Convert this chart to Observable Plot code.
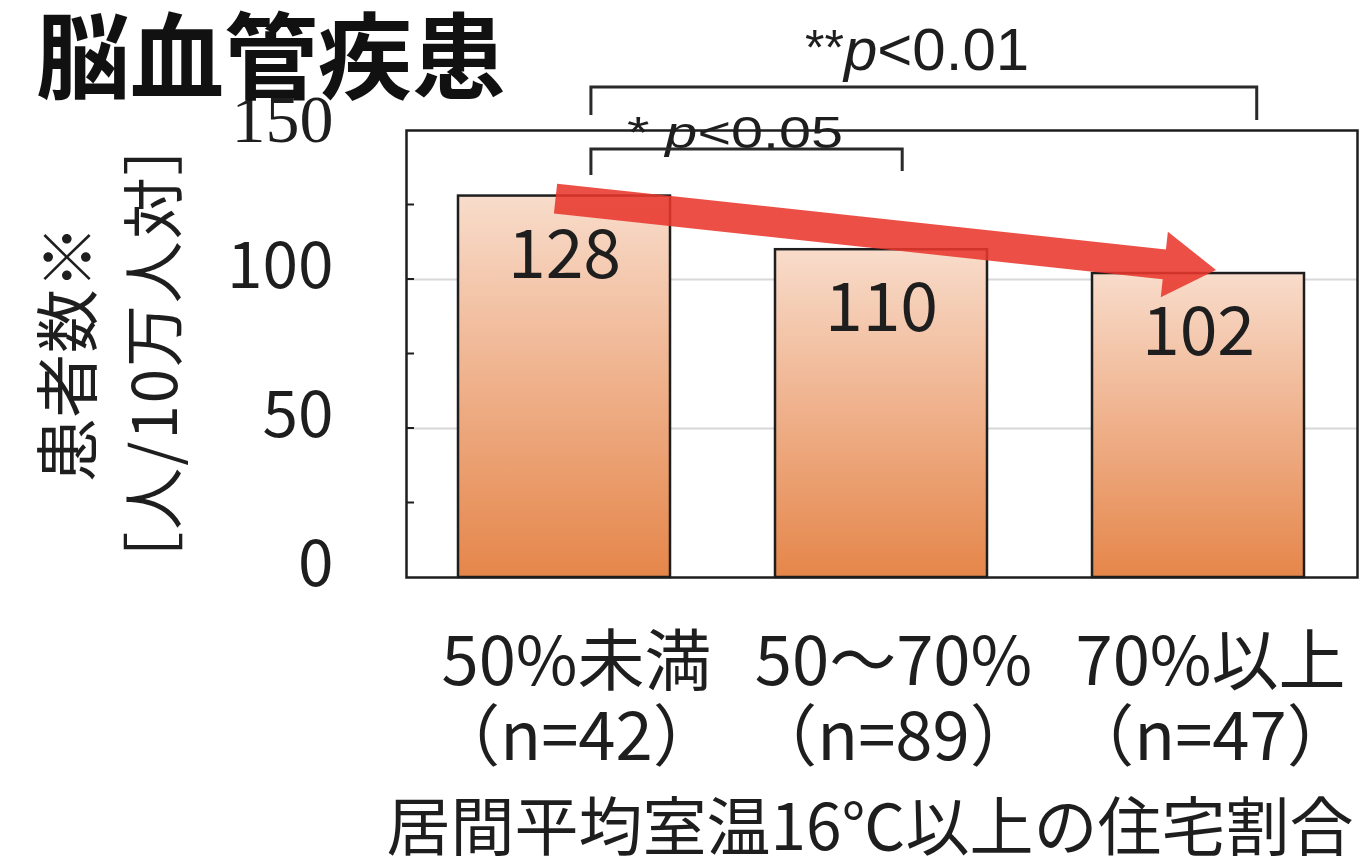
<!DOCTYPE html>
<html>
<head>
<meta charset="utf-8">
<script src="https://cdn.jsdelivr.net/npm/d3@7"></script>
<script src="https://cdn.jsdelivr.net/npm/@observablehq/plot@0.6"></script>
<style>
  html, body { margin: 0; padding: 0; background: #fff; }
  #chart { position: relative; width: 1361px; height: 857px; overflow: hidden; }
  #chart svg { display: block; }
</style>
</head>
<body>
<div id="chart"></div>
<script>
// Cerebrovascular disease patients per 100k, by share of homes with living-room temp >= 16°C
const categories = ["50%未満", "50～70%", "70%以上"];
const sampleSizes = ["（n=42）", "（n=89）", "（n=47）"];
const patients = [128, 110, 102];
const yTickLabels = [0, 50, 100];
const yTopTick = [150];
const minorTicks = [25, 50, 75, 100, 125];
const gridValues = [50, 100];
const titleText = "脳血管疾患";
const yLabelLines = ["患者数※", "［人/10万人対］"];
const xTitle = "居間平均室温16℃以上の住宅割合";

const JP = "'Noto Sans CJK JP', 'Noto Sans', sans-serif";
const INK = "#1e1e1e";

const rows = categories.map((c, i) => ({category: c, n: sampleSizes[i], value: patients[i]}));

const plot = Plot.plot({
  width: 1361,
  height: 857,
  marginLeft: 406,
  marginRight: 4,
  marginTop: 130,
  marginBottom: 280,
  style: {fontFamily: JP, background: "#fff", color: INK, overflow: "visible"},
  x: {domain: categories, paddingInner: 0.33, paddingOuter: 0.165, label: null},
  y: {domain: [0, 150], label: null},
  marks: [
    Plot.ruleY(gridValues, {stroke: "#d8d8d8", strokeWidth: 2}),
    Plot.barY(rows, {x: "category", y: "value", fill: "url(#barFill)", stroke: INK, strokeWidth: 2.5}),
    Plot.text(rows, {x: "category", y: "value", text: d => String(d.value), dy: 60, lineAnchor: "middle", fontSize: 68, fill: INK}),
    Plot.axisY({ticks: yTickLabels, tickSize: 0, tickPadding: 73, dy: -12, fontSize: 64, label: null, fill: INK}),
    Plot.axisY({ticks: yTopTick, tickSize: 0, tickPadding: 73, dy: -10, fontSize: 68, fontFamily: "'Liberation Serif', 'DejaVu Serif', serif", label: null, fill: INK}),
    Plot.axisX({
      tickSize: 0, tickPadding: 54, fontSize: 67, lineHeight: 1.12, dx: 12, label: null, fill: INK,
      tickFormat: d => d + "\n" + sampleSizes[categories.indexOf(d)]
    }),
    Plot.frame({stroke: INK, strokeWidth: 2.5})
  ]
});

document.getElementById("chart").appendChild(plot);

const svg = d3.select(plot);
const sx = plot.scale("x");
const sy = plot.scale("y");
const bw = sx.bandwidth;
const cx = c => sx.apply(c) + bw / 2;
const frameLeft = sx.range[0];
const frameTop = sy.apply(150);

// bar gradient: pale peach at top to orange at the base
const grad = svg.insert("defs", ":first-child").append("linearGradient")
  .attr("id", "barFill").attr("x1", 0).attr("y1", 0).attr("x2", 0).attr("y2", 1);
grad.append("stop").attr("offset", "0%").attr("stop-color", "#f8dccb");
grad.append("stop").attr("offset", "50%").attr("stop-color", "#efb08a");
grad.append("stop").attr("offset", "100%").attr("stop-color", "#e5864a");

const overlay = svg.append("g").attr("text-anchor", "start");

// inward minor ticks on the value axis
overlay.selectAll("line.minor").data(minorTicks).join("line")
  .attr("x1", frameLeft).attr("x2", frameLeft + 8)
  .attr("y1", d => sy.apply(d)).attr("y2", d => sy.apply(d))
  .attr("stroke", INK).attr("stroke-width", 2);

// downward trend arrow from the first bar to the last
{
  const S = [cx(categories[0]) - 0.04 * bw, sy.apply(patients[0]) + 3];
  const E = [cx(categories[2]) + 0.085 * bw, sy.apply(patients[2]) - 3];
  const len = Math.hypot(E[0] - S[0], E[1] - S[1]);
  const u = [(E[0] - S[0]) / len, (E[1] - S[1]) / len];
  const n = [-u[1], u[0]];
  const h = 15, H = 33, headLen = 52;
  const B = [E[0] - u[0] * headLen, E[1] - u[1] * headLen];
  const p = (P, k) => [P[0] + n[0] * k, P[1] + n[1] * k];
  const pts = [p(S, h), p(B, h), p(B, H), E, p(B, -H), p(B, -h), p(S, -h)];
  overlay.append("polygon")
    .attr("points", pts.map(q => q.join(",")).join(" "))
    .attr("fill", "#e8372c").attr("fill-opacity", 0.88);
}

// significance labels
const sig = overlay.append("g").attr("font-family", "'Liberation Sans', Arial, sans-serif").attr("fill", INK);
{
  const t1 = sig.append("text").attr("x", 805).attr("y", frameTop - 60).attr("font-size", 60)
    .attr("text-anchor", "start");
  t1.append("tspan").attr("font-size", 50).attr("dy", -5).text("**");
  t1.append("tspan").attr("font-style", "italic").attr("dy", 5).text("p");
  t1.append("tspan").text("<0.01");

  const t2 = sig.append("text").attr("x", 627).attr("y", frameTop + 18).attr("font-size", 44)
    .attr("text-anchor", "start")
    .attr("textLength", 216).attr("lengthAdjust", "spacingAndGlyphs");
  t2.append("tspan").text("* ");
  t2.append("tspan").attr("font-style", "italic").text("p");
  t2.append("tspan").text("<0.05");
}

// comparison brackets
const bracket = (xa, xb, y, dropA, dropB) => {
  overlay.append("path")
    .attr("d", `M${xa},${y + dropA}V${y}H${xb}V${y + dropB}`)
    .attr("fill", "none").attr("stroke", "#2a2a2a").attr("stroke-width", 3);
};
bracket(cx(categories[0]) + 0.127 * bw, cx(categories[2]) + 0.277 * bw, frameTop - 43, 28, 33);
bracket(cx(categories[0]) + 0.127 * bw, cx(categories[1]) + 0.1 * bw, frameTop + 19, 26, 22);

// title
overlay.append("text").attr("x", 36).attr("y", 92)
  .attr("text-anchor", "start")
  .attr("font-family", JP).attr("font-weight", 700).attr("font-size", 94)
  .attr("fill", "#111").text(titleText);

// rotated value-axis label, two lines, spread to their full run length
const midY = (sy.range[0] + sy.range[1]) / 2;
[[63, 64, 257], [150, 62, 480]].forEach(([x, fs, span], i) => {
  const t = overlay.append("text")
    .attr("transform", `translate(${x},${midY}) rotate(-90)`)
    .attr("text-anchor", "middle").attr("dominant-baseline", "central")
    .attr("font-family", JP).attr("font-size", fs).attr("fill", INK)
    .text(yLabelLines[i]);
  const natural = t.node().getComputedTextLength();
  const chars = [...yLabelLines[i]].length;
  if (natural > 0 && span > natural) {
    const ls = (span - natural) / (chars - 1);
    t.attr("letter-spacing", ls).attr("dx", ls / 2);
  }
});

// category-axis title
overlay.append("text").attr("x", 870).attr("y", 850)
  .attr("text-anchor", "middle")
  .attr("font-family", JP).attr("font-size", 64).attr("fill", INK)
  .text(xTitle);
</script>
</body>
</html>
